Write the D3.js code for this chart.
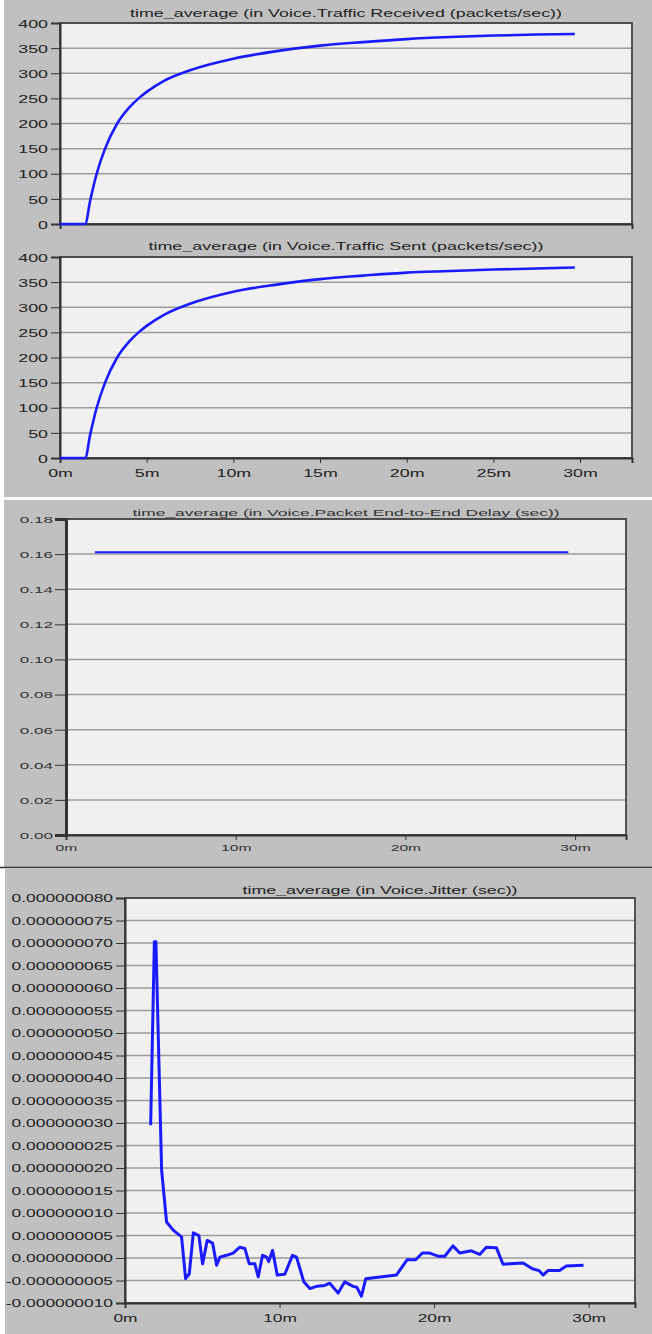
<!DOCTYPE html>
<html>
<head>
<meta charset="utf-8">
<script src="https://cdn.jsdelivr.net/npm/d3@7"></script>
<style>
  body { margin: 0; background: #fff; }
  svg { display: block; font-family: "Liberation Sans", Arial, sans-serif; }
</style>
</head>
<body>
<div id="chart"></div>
<script>
// time in minutes
const receivedTime  = [0, 1.45, 1.75, 2.1, 2.6, 3.3, 4.0, 4.6, 5, 6, 7.5, 10, 12.5, 15, 17.5, 20, 22.5, 25, 27.5, 29.7];
const receivedValue = [0, 0, 48, 98, 150, 200, 232, 252, 263, 285, 306, 329, 344, 355, 362, 368, 372, 375, 377, 378];

const sentTime  = [0, 1.45, 1.75, 2.1, 2.6, 3.3, 4.0, 4.6, 5, 6, 7.5, 10, 12.5, 15, 17.5, 20, 22.5, 25, 27.5, 29.7];
const sentValue = [0, 0, 48, 98, 150, 200, 232, 252, 263, 285, 307, 331, 345, 356, 363, 369, 372, 375, 377, 379];

const delayTime  = [1.7, 29.6];
const delayValue = [0.161, 0.161];

// jitter values in units of 1e-9 sec
const jitterTime  = [1.66, 1.9, 2.0, 2.37, 2.69, 3.12, 3.66, 3.92, 4.16, 4.42, 4.78, 5.02, 5.32, 5.67, 5.93, 6.14, 6.57, 7.0, 7.43, 7.76, 8.04, 8.4, 8.62, 8.9, 9.16, 9.3, 9.55, 9.85, 10.34, 10.84, 11.1, 11.57, 11.96, 12.4, 12.93, 13.25, 13.79, 14.22, 14.76, 15.0, 15.3, 15.58, 17.56, 18.25, 18.81, 19.24, 19.72, 20.25, 20.69, 21.22, 21.66, 22.41, 22.95, 23.38, 24.03, 24.46, 24.9, 25.76, 26.36, 26.79, 27.05, 27.37, 28.12, 28.55, 29.67];
const jitterValue = [29.5, 70.3, 70.3, 19.5, 8.0, 6.2, 4.7, -4.6, -3.5, 5.6, 5.0, -1.3, 3.9, 3.3, -1.6, 0.2, 0.6, 1.1, 2.4, 2.1, -1.3, -1.3, -4.2, 0.6, 0.2, -0.8, 1.7, -3.8, -3.6, 0.6, 0.2, -5.3, -6.8, -6.3, -6.1, -5.6, -7.8, -5.3, -6.3, -6.5, -8.5, -4.6, -3.8, -0.4, -0.4, 1.1, 1.1, 0.4, 0.4, 2.7, 1.1, 1.6, 0.8, 2.4, 2.3, -1.4, -1.3, -1.1, -2.4, -2.8, -3.8, -2.8, -2.8, -1.8, -1.6];

const trafficTicks = [0, 50, 100, 150, 200, 250, 300, 350, 400];
const delayTicks = [0, 0.02, 0.04, 0.06, 0.08, 0.10, 0.12, 0.14, 0.16, 0.18];
const jitterTicks = [-10, -5, 0, 5, 10, 15, 20, 25, 30, 35, 40, 45, 50, 55, 60, 65, 70, 75, 80];
const timeTicksFine = [0, 5, 10, 15, 20, 25, 30];
const timeTicksCoarse = [0, 10, 20, 30];

const titles = [
  "time_average (in Voice.Traffic Received (packets/sec))",
  "time_average (in Voice.Traffic Sent (packets/sec))",
  "time_average (in Voice.Packet End-to-End Delay (sec))",
  "time_average (in Voice.Jitter (sec))"
];

const W = 652, H = 1334;
const svg = d3.select("#chart").append("svg").attr("width", W).attr("height", H);

// window panels
svg.append("rect").attr("x", 4).attr("y", 0).attr("width", 648).attr("height", 497).attr("fill", "#c0c0c0");
svg.append("rect").attr("x", 4).attr("y", 500).attr("width", 648).attr("height", 367).attr("fill", "#c0c0c0");
svg.append("line").attr("x1", 0).attr("x2", W).attr("y1", 867.5).attr("y2", 867.5).attr("stroke", "#333").attr("stroke-width", 1.5);
svg.append("rect").attr("x", 5).attr("y", 869).attr("width", 647).attr("height", 465).attr("fill", "#c0c0c0");

function stretch(sel, sx) {
  sel.each(function () {
    const t = d3.select(this);
    const x = +t.attr("x") || 0;
    t.attr("x", x / sx).attr("transform", `scale(${sx},1)`);
  });
}

function drawChart(c) {
  const x = d3.scaleLinear().domain([0, 33]).range([c.left, c.right]);
  const y = d3.scaleLinear().domain(c.yDomain).range([c.bottom, c.top]);
  const g = svg.append("g");

  g.append("rect")
    .attr("x", c.left).attr("y", c.top)
    .attr("width", c.right - c.left).attr("height", c.bottom - c.top)
    .attr("fill", "#f0f0f0");

  g.append("g").selectAll("line")
    .data(c.yTicks)
    .join("line")
    .attr("x1", c.left).attr("x2", c.right)
    .attr("y1", d => y(d)).attr("y2", d => y(d))
    .attr("stroke", "#9c9c9c").attr("stroke-width", 1.5);

  g.append("rect")
    .attr("x", c.left).attr("y", c.top)
    .attr("width", c.right - c.left).attr("height", c.bottom - c.top)
    .attr("fill", "none").attr("stroke", "#444").attr("stroke-width", 1.8);

  const yAxis = g.append("g")
    .attr("transform", `translate(${c.left},0)`)
    .call(d3.axisLeft(y).tickValues(c.yTicks).tickFormat(c.yFormat)
      .tickSize(c.yTickSize).tickPadding(c.yPad));
  yAxis.select(".domain").attr("stroke", "#333").attr("stroke-width", c.axisWidth);
  yAxis.selectAll(".tick line").attr("stroke", "#333");
  yAxis.selectAll(".tick text")
    .attr("fill", c.textColor).attr("font-size", c.fontSize).attr("dy", "0.36em");
  stretch(yAxis.selectAll(".tick text"), c.sx);

  const xAxis = g.append("g")
    .attr("transform", `translate(0,${c.bottom})`)
    .call(d3.axisBottom(x).tickValues(c.xTicks || []).tickFormat(d => d + "m")
      .tickSize(5).tickPadding(c.xPad));
  xAxis.select(".domain").attr("stroke", "#333").attr("stroke-width", 2);
  xAxis.selectAll(".tick line").attr("stroke", "#333");
  xAxis.selectAll(".tick text").attr("fill", c.textColor).attr("font-size", c.fontSize);
  stretch(xAxis.selectAll(".tick text"), c.xsx || c.sx);

  g.append("text")
    .attr("x", (c.left + c.right) / 2 + (c.titleShift || 0))
    .attr("y", c.titleY)
    .attr("text-anchor", "middle")
    .attr("font-size", c.titleSize)
    .attr("fill", c.textColor)
    .attr("textLength", c.titleLen)
    .attr("lengthAdjust", "spacingAndGlyphs")
    .text(c.title);

  const pts = c.time.map((t, i) => [t, c.values[i]]);
  g.append("path")
    .datum(pts)
    .attr("fill", "none")
    .attr("stroke", "#1a1aff")
    .attr("stroke-width", c.lineWidth)
    .attr("stroke-linejoin", "round")
    .attr("d", d3.line().x(d => x(d[0])).y(d => y(d[1])).curve(c.curve));
}

drawChart({
  left: 60, right: 632, top: 23, bottom: 224,
  yDomain: [0, 400], yTicks: trafficTicks, yFormat: d => d,
  yTickSize: 9, yPad: 3, xTicks: [], xPad: 6,
  fontSize: 11.5, sx: 1.55, textColor: "#222", axisWidth: 2,
  title: titles[0], titleY: 17, titleSize: 11.5, titleLen: 432,
  time: receivedTime, values: receivedValue, lineWidth: 2.6, curve: d3.curveMonotoneX
});

drawChart({
  left: 60, right: 632, top: 257, bottom: 458,
  yDomain: [0, 400], yTicks: trafficTicks, yFormat: d => d,
  yTickSize: 9, yPad: 3, xTicks: timeTicksFine, xPad: 6,
  fontSize: 11.5, sx: 1.55, textColor: "#222", axisWidth: 2,
  title: titles[1], titleY: 250, titleSize: 11.5, titleLen: 395,
  time: sentTime, values: sentValue, lineWidth: 2.6, curve: d3.curveMonotoneX
});

drawChart({
  left: 66, right: 626, top: 519, bottom: 835,
  yDomain: [0, 0.18], yTicks: delayTicks, yFormat: d => d.toFixed(2),
  yTickSize: 11, yPad: 2, xTicks: timeTicksCoarse, xPad: 4,
  fontSize: 9.5, sx: 1.8, xsx: 1.65, textColor: "#333", axisWidth: 3,
  title: titles[2], titleY: 516, titleSize: 9.5, titleLen: 427,
  time: delayTime, values: delayValue, lineWidth: 2, curve: d3.curveLinear
});

drawChart({
  left: 125, right: 635, top: 898, bottom: 1303,
  yDomain: [-10, 80], yTicks: jitterTicks, yFormat: d => (d * 1e-9).toFixed(9),
  yTickSize: 9, yPad: 3, xTicks: timeTicksCoarse, xPad: 6,
  fontSize: 11, sx: 1.58, textColor: "#222", axisWidth: 2,
  title: titles[3], titleY: 894, titleSize: 11.5, titleLen: 275,
  time: jitterTime, values: jitterValue, lineWidth: 3, curve: d3.curveLinear
});
</script>
</body>
</html>
